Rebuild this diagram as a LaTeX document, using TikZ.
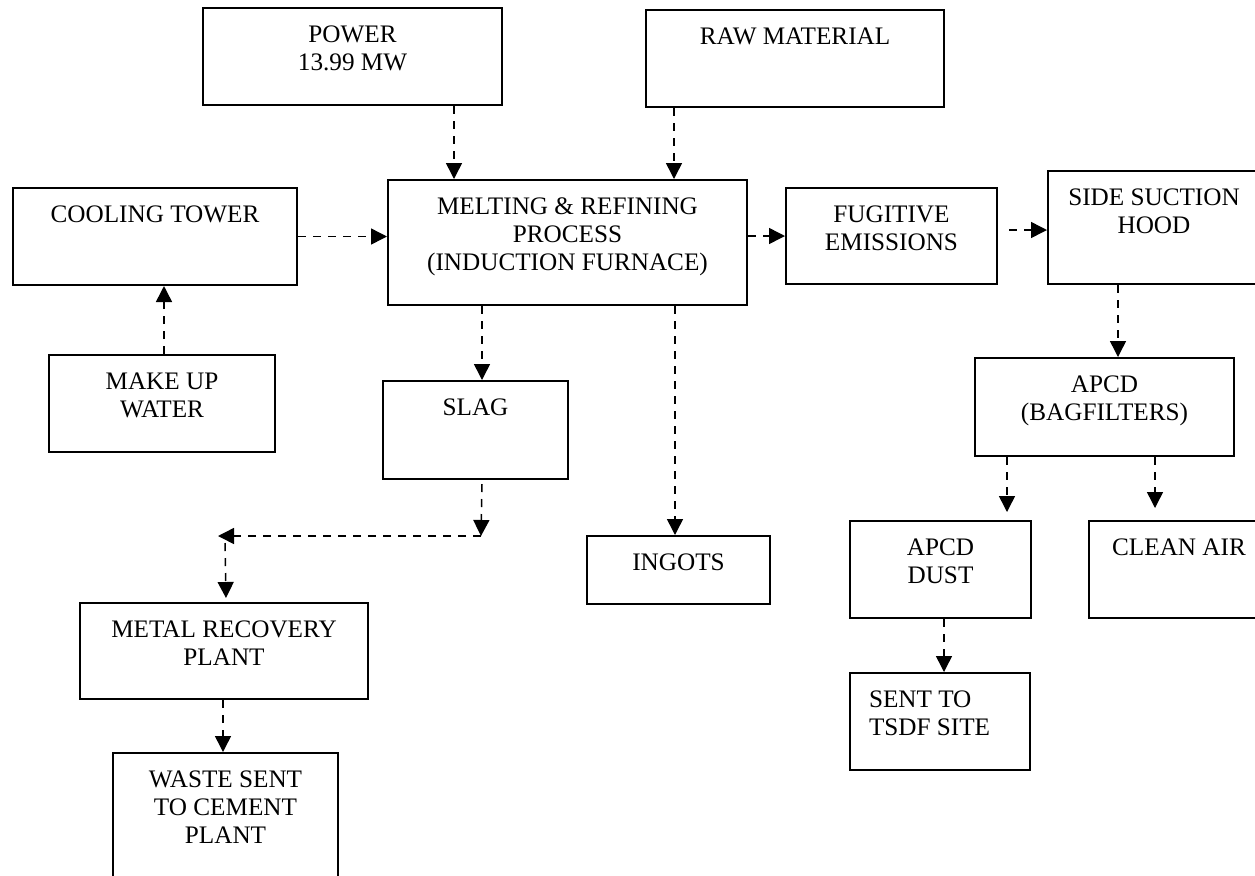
\documentclass[tikz,border=0pt]{standalone}
\usepackage{fontspec}
\setmainfont{Liberation Serif}
\usepackage{tikz}
\usetikzlibrary{calc}
\usetikzlibrary{arrows.meta}
\tikzset{>=latex}
\tikzset{blk/.style = {draw, line width=1pt, anchor=north west, inner sep=0pt,
                       font=\fontsize{12.6pt}{14pt}\selectfont}}
\tikzset{flow/.style = {-{Triangle[width=8pt,length=8pt]}, line width=0.75pt,
                        dash pattern=on 4pt off 3.5pt}}
\newcommand{\boxtext}[4][\centering]{\parbox[t][#3][t]{#2}{#1\rule{0pt}{17pt}#4}}

\begin{document}
\begin{tikzpicture}[x=0.5pt,y=-0.5pt]
                    \useasboundingbox (0,0) rectangle (1255,875);
                    \clip (0,0) rectangle (1255,875);

                    \node[blk] (pow) at (202,7) {\boxtext{149.5pt}{48.5pt}{POWER\\13.99 MW}};
                    \node[blk] (raw) at (645,9) {\boxtext{149pt}{48.5pt}{RAW MATERIAL}};
                    \node[blk] (cool) at (12,187) {\boxtext{142pt}{48.5pt}{COOLING TOWER}};
                    \node[blk] (melt) at (387,179) {\boxtext{179.5pt}{62.5pt}{MELTING \& REFINING\\PROCESS\\(INDUCTION FURNACE)}};
                    \node[blk] (fug) at (785,187) {\boxtext{105.5pt}{48pt}{FUGITIVE\\EMISSIONS}};
                    \node[blk] (hood) at (1047,170) {\boxtext{106pt}{56.5pt}{SIDE SUCTION\\HOOD}};
                    \node[blk] (water) at (48,354) {\boxtext{113pt}{48.5pt}{MAKE UP\\WATER}};
                    \node[blk] (slag) at (382,380) {\boxtext{92.5pt}{49pt}{SLAG}};
                    \node[blk] (apcd) at (974,357) {\boxtext{129.5pt}{49pt}{APCD\\(BAGFILTERS)}};
                    \node[blk] (ingot) at (586,535) {\boxtext{91.5pt}{34pt}{INGOTS}};
                    \node[blk] (dust) at (849,520) {\boxtext{90.5pt}{48.5pt}{APCD\\DUST}};
                    \node[blk] (air) at (1088,520) {\boxtext{90pt}{48.5pt}{CLEAN AIR}};
                    \node[blk] (metal) at (79,602) {\boxtext{144pt}{48pt}{METAL RECOVERY\\PLANT}};
                    \node[blk] (tsdf) at (849,672) {\boxtext[\raggedright\leftskip=9.5pt]{90pt}{48.5pt}{SENT TO\\TSDF SITE}};
                    \node[blk] (waste) at (112,752) {\boxtext{112.5pt}{75pt}{WASTE SENT\\TO CEMENT\\PLANT}};

                    \coordinate (sbend) at (481,536);
                    \coordinate (mbend) at (218,536);

                    % Inputs into the furnace
                    \draw[flow] ($(pow.south)+(101.5,0)$) -- ($(melt.north)+(-113.5,0)$);
                    \draw[flow] ($(raw.south)+(-121,0)$) -- ($(melt.north)+(106.5,0)$);
                    \draw[flow] (cool.east) -- (cool.east -| melt.west);
                    \draw[flow] ($(water.north)+(2,0)$) -- ($(cool.south)+(9,0)$);

                    % Emissions side
                    \draw[flow] (melt.east |- fug.west) -- (fug.west);
                    \draw[flow] ($(fug.east)+(11,-6)$) -- ($(hood.west)+(0,2.5)$);
                    \draw[flow] ($(hood.south)+(-36,0)$) -- ($(apcd.north)+(13.5,0)$);
                    \draw[flow] ($(apcd.south)+(-97.5,0)$) -- ($(dust.north)+(66.5,-8)$);
                    \draw[flow] ($(apcd.south)+(50.5,0)$) -- ($(air.north)+(-24,-12)$);
                    \draw[flow] ($(dust.south)+(3.5,0)$) -- ($(tsdf.north)+(4,0)$);

                    % Products and slag
                    \draw[flow] ($(melt.south)+(107.5,0)$) -- ($(ingot.north)+(-3.5,0)$);
                    \draw[flow] ($(melt.south)+(-85.5,0)$) -- ($(slag.north)+(6.5,0)$);
                    \draw[flow] ($(slag.south)+(6.5,4)$) -- (sbend);
                    \draw[flow] (sbend) -- (mbend);
                    \draw[flow] ($(mbend)+(7,7)$) -- ($(metal.north)+(2,-4)$);
                    \draw[flow] ($(metal.south)+(-1,0)$) -- ($(waste.north)+(-2.5,0)$);
                \end{tikzpicture}
\end{document}
